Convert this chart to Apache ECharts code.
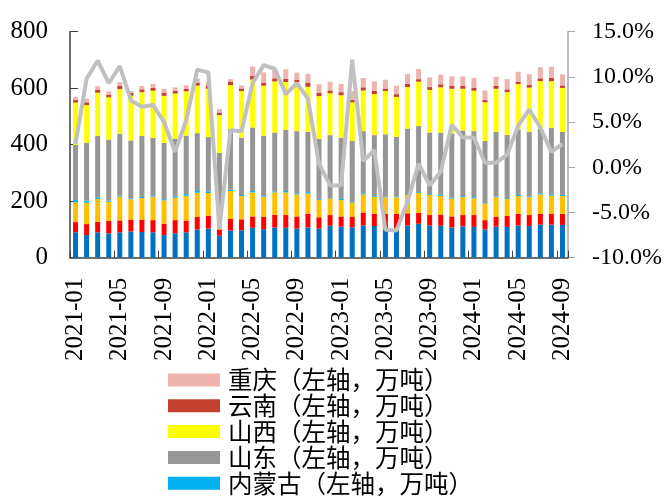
<!DOCTYPE html>
<html>
<head>
<meta charset="utf-8">
<script src="https://cdn.jsdelivr.net/npm/echarts@6/dist/echarts.min.js"></script>
<style>html,body{margin:0;padding:0;background:#fff;}#c{width:669px;height:496px;}</style>
</head>
<body>
<div id="c"></div>
<script>
const categories = [
  '2021-01','2021-02','2021-03','2021-04','2021-05','2021-06','2021-07','2021-08','2021-09','2021-10','2021-11','2021-12',
  '2022-01','2022-02','2022-03','2022-04','2022-05','2022-06','2022-07','2022-08','2022-09','2022-10','2022-11','2022-12',
  '2023-01','2023-02','2023-03','2023-04','2023-05','2023-06','2023-07','2023-08','2023-09','2023-10','2023-11','2023-12',
  '2024-01','2024-02','2024-03','2024-04','2024-05','2024-06','2024-07','2024-08','2024-09'
];
// bottom to top stack segments (万吨)
const seriesBlue   = [90,80,90,86,90,93,91,90,80,86,90,100,103,78,96,97,106,101,107,106,103,107,103,113,110,107,114,112,102,100,114,120,114,113,107,111,109,100,110,109,114,112,117,117,116];
const seriesRed    = [36,39,37,44,42,42,44,43,40,47,41,44,46,22,41,39,40,44,45,45,43,49,40,38,36,38,46,43,53,55,43,39,37,40,39,40,42,33,35,39,41,39,39,38,40];
const seriesOrange = [70,76,81,68,84,72,76,83,83,79,88,86,80,70,99,82,85,71,79,80,78,71,62,58,58,50,64,60,59,59,65,70,71,66,63,64,59,57,69,60,63,63,68,64,62];
const neimenggu    = [8,7,6,4,4,3,4,3,4,5,6,6,6,4,5,4,5,5,4,5,4,5,3,2,4,2,4,3,3,3,3,3,3,4,3,3,4,2,3,3,4,3,4,4,4];
const shandong     = [195,205,217,216,218,205,216,205,199,204,207,205,192,197,214,203,225,211,208,216,220,214,213,223,217,216,220,216,220,211,232,234,218,220,228,232,234,221,229,224,232,228,229,236,223];
const shanxi       = [150,133,153,150,159,158,155,167,167,160,157,168,171,134,156,165,170,177,181,170,173,159,151,148,150,137,144,145,153,141,147,157,151,160,158,148,143,137,152,151,161,157,168,166,156];
const yunnan       = [9,10,11,9,11,10,10,10,11,9,9,11,12,9,11,9,12,11,11,12,8,15,11,10,11,9,11,11,9,10,11,9,10,11,11,10,10,8,10,10,8,10,10,11,9];
const chongqing    = [11,13,12,12,13,7,12,14,14,13,12,14,13,12,10,11,34,36,29,33,26,31,31,31,29,30,33,34,31,30,35,36,34,34,33,34,35,34,33,36,35,38,39,40,39];
// right axis line (%)
const yoyLine      = [2.6,9.8,11.8,9.3,11.2,7.4,6.7,6.9,5.0,1.7,5.2,10.8,10.5,-6.8,4.1,4.0,9.3,11.3,10.9,8.1,9.3,7.6,0.4,-2.0,-2.0,11.9,0.7,1.9,-6.9,-7.0,-3.8,0.4,-2.0,-0.5,4.7,3.3,3.3,0.5,0.5,1.4,4.6,6.4,4.4,1.7,2.6];
const leftTicks = {min:0, max:800, interval:200};
const rightTicks = {min:-10, max:15, interval:5};
const legendNames = ['重庆（左轴，万吨）','云南（左轴，万吨）','山西（左轴，万吨）','山东（左轴，万吨）','内蒙古（左轴，万吨）'];

const serif = '"Liberation Serif","Times New Roman",serif';
const barDefs = [
  {name:'seriesBlue', data:seriesBlue, color:'#0070C0'},
  {name:'seriesRed', data:seriesRed, color:'#FF0000'},
  {name:'seriesOrange', data:seriesOrange, color:'#FFC000'},
  {name:legendNames[4], data:neimenggu, color:'#00B0F0'},
  {name:legendNames[3], data:shandong, color:'#969696'},
  {name:legendNames[2], data:shanxi, color:'#FFFF00'},
  {name:legendNames[1], data:yunnan, color:'#C5402F'},
  {name:legendNames[0], data:chongqing, color:'#EDB3AD'}
];
const series = barDefs.map(d => ({
  name:d.name, type:'bar', stack:'total', data:d.data, barWidth:5,
  itemStyle:{color:d.color}, emphasis:{disabled:true}, animation:false
}));
series.push({
  name:'yoy', type:'line', yAxisIndex:1, data:yoyLine, symbol:'none', z:5,
  lineStyle:{color:'#C0C0C0', width:4}, itemStyle:{color:'#C0C0C0'}, animation:false
});

const chart = echarts.init(document.getElementById('c'));
chart.setOption({
  animation:false,
  backgroundColor:'#fff',
  grid:{left:70, right:101, top:31.7, bottom:238.3, containLabel:false},
  legend:{
    data:legendNames, orient:'vertical', left:168, top:367.5, padding:0,
    itemWidth:52, itemHeight:13, itemGap:0.8, icon:'rect',
    textStyle:{fontFamily:'"Noto Sans CJK SC"', fontSize:24.5, color:'#000', lineHeight:25, padding:[0,0,0,3]}
  },
  xAxis:{
    type:'category', data:categories, boundaryGap:true,
    axisLine:{lineStyle:{color:'#404040', width:1.5}},
    axisTick:{show:true, inside:true, interval:3, length:7, lineStyle:{color:'#404040'}},
    axisLabel:{interval:3, rotate:90, margin:20, color:'#000', fontFamily:serif, fontSize:25}
  },
  yAxis:[{
    type:'value', min:leftTicks.min, max:leftTicks.max, interval:leftTicks.interval,
    axisLine:{show:true, lineStyle:{color:'#404040', width:1.5}},
    axisTick:{show:true, inside:true, length:8, lineStyle:{color:'#404040'}},
    splitLine:{show:false},
    axisLabel:{color:'#000', fontFamily:serif, fontSize:25, margin:22}
  },{
    type:'value', min:rightTicks.min, max:rightTicks.max, interval:rightTicks.interval,
    axisLine:{show:true, lineStyle:{color:'#A6A6A6', width:1.5}},
    axisTick:{show:true, inside:false, length:7, lineStyle:{color:'#A6A6A6'}},
    splitLine:{show:false},
    axisLabel:{color:'#000', fontFamily:serif, fontSize:24, margin:24,
      formatter: v => v.toFixed(1) + '%'}
  }],
  series:series
});
</script>
</body>
</html>
